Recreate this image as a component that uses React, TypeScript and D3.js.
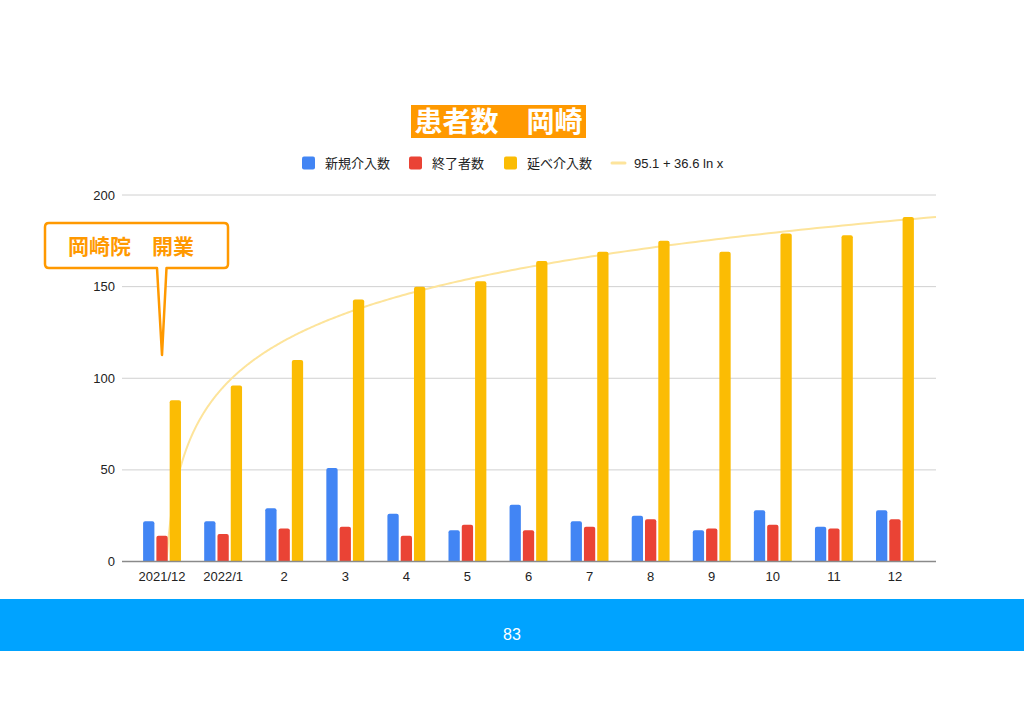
import React, { useEffect, useRef } from "react";
import * as d3 from "d3";

const categories = ["2021/12", "2022/1", "2", "3", "4", "5", "6", "7", "8", "9", "10", "11", "12"];
const seriesNames = ["新規介入数", "終了者数", "延べ介入数"];
const newCases = [22, 22, 29, 51, 26, 17, 31, 22, 25, 17, 28, 19, 28];
const endedCases = [14, 15, 18, 19, 14, 20, 17, 19, 23, 18, 20, 18, 23];
const totalCases = [88, 96, 110, 143, 150, 153, 164, 169, 175, 169, 179, 178, 188];
const seriesColors = ["#4285f4", "#ea4335", "#fbbc04"];
const yTicks = [0, 50, 100, 150, 200];
const trendA = 95.1;
const trendB = 36.6;
const trendLabel = "95.1 + 36.6 ln x";
const titleText = "患者数　岡崎";
const calloutText = "岡崎院　開業";
const pageNumber = "83";

const W = 1024;
const H = 724;
const ORANGE = "#ff9900";
const LATIN = "Arial, 'Liberation Sans', 'Noto Sans CJK JP', sans-serif";
const CJK = "'Noto Sans CJK JP', 'Noto Sans', sans-serif";

export default function App() {
  const ref = useRef<SVGSVGElement>(null);

  useEffect(() => {
    document.body.style.margin = "0";
    const svg = d3.select(ref.current);
    svg.selectAll("*").remove();

    svg.append("rect").attr("width", W).attr("height", H).attr("fill", "#ffffff");

    const gridLeft = 122;
    const gridRight = 936;
    const y = d3.scaleLinear().domain([0, 200]).range([561.5, 195]);
    const x = d3.scaleBand<string>().domain(categories).range([131.5, 925.5]).paddingInner(0.38).paddingOuter(0.19);
    const xi = d3.scaleBand<string>().domain(seriesNames).range([0, x.bandwidth()]).paddingInner(0.15);

    // gridlines
    svg.append("g").selectAll("line").data(yTicks.filter((t) => t > 0)).join("line")
      .attr("x1", gridLeft).attr("x2", gridRight)
      .attr("y1", (d) => y(d)).attr("y2", (d) => y(d))
      .attr("stroke", "#d0d0d0").attr("stroke-width", 1);

    // y labels
    svg.append("g").selectAll("text").data(yTicks).join("text")
      .attr("x", 115).attr("y", (d) => y(d)).attr("dy", "0.35em")
      .attr("text-anchor", "end").attr("font-family", LATIN).attr("font-size", 13)
      .attr("fill", "#222").text((d) => String(d));

    // trendline (behind bars)
    const step = x.step();
    const c0 = (x(categories[0]) as number) + x.bandwidth() / 2;
    const tStart = Math.exp(-trendA / trendB);
    const tEnd = (gridRight - c0) / step;
    const pts: [number, number][] = [];
    const n = 400;
    for (let i = 0; i <= n; i++) {
      const t = tStart * Math.pow(tEnd / tStart, i / n);
      pts.push([c0 + t * step, y(trendA + trendB * Math.log(t))]);
    }
    svg.append("path").attr("d", d3.line()(pts) as string)
      .attr("fill", "none").attr("stroke", "#fde49b").attr("stroke-width", 2);

    // bars
    const all = [newCases, endedCases, totalCases];
    const barPath = (x0: number, w: number, yTop: number, yBot: number) => {
      const r = Math.min(2, (yBot - yTop) / 2);
      return `M${x0},${yBot}V${yTop + r}Q${x0},${yTop} ${x0 + r},${yTop}H${x0 + w - r}Q${x0 + w},${yTop} ${x0 + w},${yTop + r}V${yBot}Z`;
    };
    seriesNames.forEach((s, si) => {
      svg.append("g").selectAll("path").data(all[si]).join("path")
        .attr("d", (v, i) => barPath((x(categories[i]) as number) + (xi(s) as number), xi.bandwidth(), y(v), y(0)))
        .attr("fill", seriesColors[si]);
    });

    // baseline
    svg.append("line").attr("x1", gridLeft).attr("x2", gridRight)
      .attr("y1", y(0)).attr("y2", y(0)).attr("stroke", "#8a8a8a").attr("stroke-width", 1.5);

    // x labels
    svg.append("g").selectAll("text").data(categories).join("text")
      .attr("x", (d) => (x(d) as number) + x.bandwidth() / 2).attr("y", 576).attr("dy", "0.35em")
      .attr("text-anchor", "middle").attr("font-family", LATIN).attr("font-size", 13)
      .attr("fill", "#222").text((d) => d);

    // legend
    const leg = svg.append("g");
    const legendItems = [
      { x: 302, label: seriesNames[0], color: seriesColors[0], kind: "box" },
      { x: 409, label: seriesNames[1], color: seriesColors[1], kind: "box" },
      { x: 504, label: seriesNames[2], color: seriesColors[2], kind: "box" },
      { x: 612, label: trendLabel, color: "#fde49b", kind: "line" },
    ];
    legendItems.forEach((it) => {
      if (it.kind === "box") {
        leg.append("rect").attr("x", it.x).attr("y", 156.5).attr("width", 13).attr("height", 13)
          .attr("rx", 2).attr("fill", it.color);
      } else {
        leg.append("line").attr("x1", it.x).attr("x2", it.x + 13).attr("y1", 163).attr("y2", 163)
          .attr("stroke", it.color).attr("stroke-width", 3).attr("stroke-linecap", "round");
      }
      leg.append("text").attr("x", it.x + (it.kind === "box" ? 23 : 22)).attr("y", 163).attr("dy", "0.35em")
        .attr("font-family", it.kind === "box" ? CJK : LATIN).attr("font-size", 13)
        .attr("fill", "#222").text(it.label);
    });

    // title
    svg.append("rect").attr("x", 411).attr("y", 105).attr("width", 175).attr("height", 33).attr("fill", ORANGE);
    svg.append("text").attr("x", 498.5).attr("y", 122).attr("dy", "0.36em")
      .attr("text-anchor", "middle").attr("font-family", CJK).attr("font-weight", 700)
      .attr("font-size", 28).attr("fill", "#ffffff").text(titleText);

    // callout
    const bx0 = 45, bx1 = 228, by0 = 223, by1 = 268, r = 4;
    const callout = `M${bx0 + r},${by0}H${bx1 - r}Q${bx1},${by0} ${bx1},${by0 + r}V${by1 - r}Q${bx1},${by1} ${bx1 - r},${by1}` +
      `H166.5L162,355L157,${by1}H${bx0 + r}Q${bx0},${by1} ${bx0},${by1 - r}V${by0 + r}Q${bx0},${by0} ${bx0 + r},${by0}Z`;
    svg.append("path").attr("d", callout).attr("fill", "#ffffff").attr("stroke", ORANGE)
      .attr("stroke-width", 2.5).attr("stroke-linejoin", "round");
    svg.append("text").attr("x", 131).attr("y", 246).attr("dy", "0.36em")
      .attr("text-anchor", "middle").attr("font-family", CJK).attr("font-weight", 700)
      .attr("font-size", 21).attr("fill", ORANGE).text(calloutText);

    // footer
    svg.append("rect").attr("x", 0).attr("y", 599).attr("width", W).attr("height", 52).attr("fill", "#00a3ff");
    svg.append("text").attr("x", 512).attr("y", 634).attr("dy", "0.35em").attr("text-anchor", "middle")
      .attr("font-family", "'Helvetica Neue', Arial, 'Liberation Sans', sans-serif").attr("font-size", 16)
      .attr("fill", "#ffffff").text(pageNumber);
  }, []);

  return (
    <svg ref={ref} width={W} height={H} style={{ display: "block", position: "absolute", left: 0, top: 0 }} />
  );
}
